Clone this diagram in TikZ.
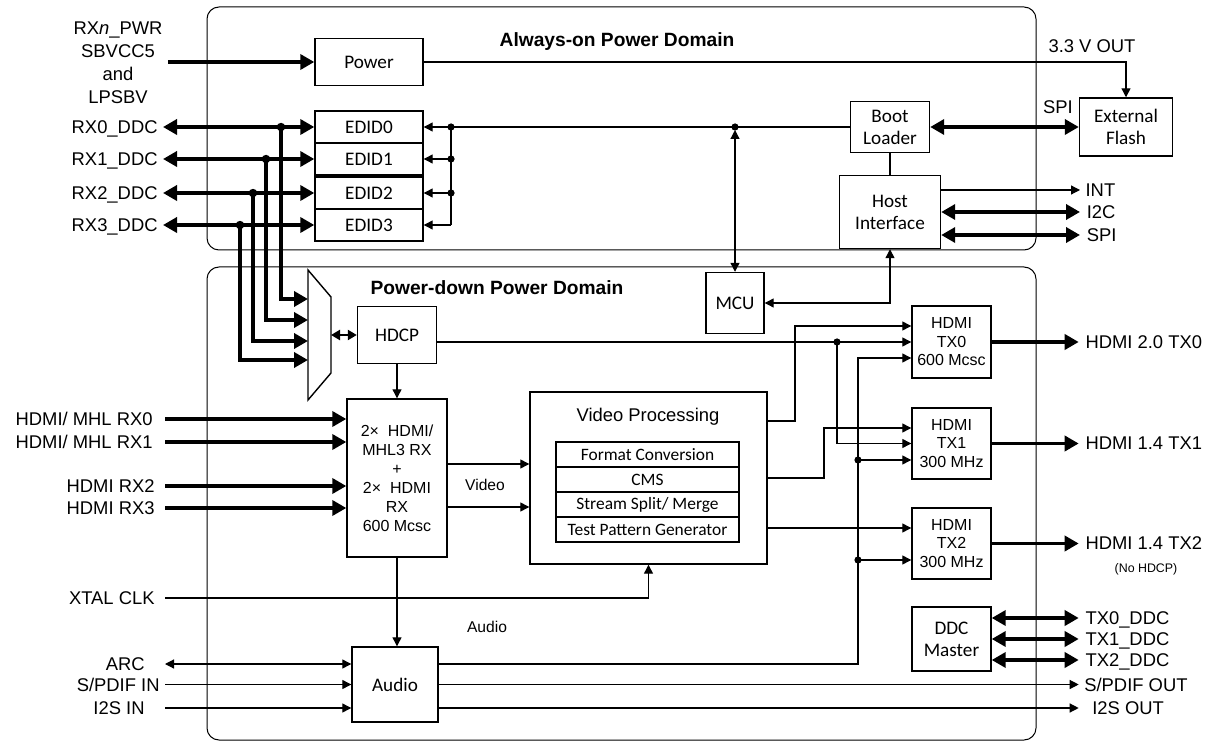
\documentclass[tikz,border=0pt]{standalone}
\usepackage{fontspec}
\setmainfont{Liberation Sans}
\newfontfamily\calfont{Carlito}
\usetikzlibrary{arrows.meta}

\tikzset{
  blk/.style={draw, line width=0.7pt, inner sep=1pt, align=center,
    font=\calfont\fontsize{9.6}{11}\selectfont},
  sz/.style 2 args={minimum width=#1*0.5pt, minimum height=#2*0.5pt},
  wire/.style={line width=0.6pt},
  sig/.style={wire, -{Triangle[length=4.5pt,width=4.5pt]}},
  sigboth/.style={wire, {Triangle[length=4.5pt,width=4.5pt]}-{Triangle[length=4.5pt,width=4.5pt]}},
  bus/.style={line width=1.8pt, -{Triangle[length=7pt,width=7.5pt]}},
  busboth/.style={line width=1.8pt, {Triangle[length=7pt,width=7.5pt]}-{Triangle[length=7pt,width=7.5pt]}},
  lbl/.style={font=\fontsize{9.2}{11.5}\selectfont, inner xsep=2.5pt, inner ysep=1pt, text depth=0pt},
  smalltxt/.style={font=\fontsize{7.8}{9}\selectfont},
  pwrdom/.style={draw, line width=0.5pt, rounded corners=6pt},
  domtitle/.style={font=\bfseries\fontsize{9.6}{11}\selectfont}
}

\begin{document}
\begin{tikzpicture}[x=0.5pt,y=-0.5pt]
\useasboundingbox (0,0) rectangle (1213,742);

% DOMAINS
\draw[pwrdom] (207,7) rectangle (1036,250);
\draw[pwrdom] (207,267) rectangle (1036,740);
\node[domtitle] (aon) at (617,42) {Always-on Power Domain};
\node[domtitle] (pdn) at (497,288) {Power-down Power Domain};

% BLOCKS
\node[blk, sz={108}{47}] (pwr) at (369,62) {Power};
\node[blk, sz={108}{32}] (edid0) at (369,127) {EDID0};
\node[blk, sz={108}{32}] (edid1) at (369,159) {EDID1};
\node[blk, sz={108}{32}] (edid2) at (369,193) {EDID2};
\node[blk, sz={108}{32}] (edid3) at (369,225) {EDID3};
\node[blk, sz={79}{51}] (boot) at (890,127) {Boot\\Loader};
\node[blk, sz={101}{73}] (host) at (890,212) {Host\\Interface};
\node[blk, sz={93}{58}] (flash) at (1126,127) {External\\Flash};
\node[blk, sz={58}{61}] (mcu) at (735,303) {MCU};
\node[blk, sz={79}{57}] (hdcp) at (397,335) {HDCP};
\node[blk, sz={100}{158}, font=\fontsize{8}{9.5}\selectfont] (rx) at (397,478)
  {2×~~HDMI/\\MHL3 RX\\+\\2×~~HDMI\\RX\\600 Mcsc};
\node[blk, sz={237}{172}] (vp) at (648.5,478) {};
\node[font=\fontsize{9.2}{10}\selectfont] (vpt) at (648,417) {Video Processing};
\node[blk, sz={183}{25}, font=\calfont\fontsize{8.7}{10}\selectfont] (fc) at (647.5,454.5) {Format Conversion};
\node[blk, sz={183}{25}, font=\calfont\fontsize{8.7}{10}\selectfont] (cms) at (647.5,479.5) {CMS};
\node[blk, sz={183}{25}, font=\calfont\fontsize{8.7}{10}\selectfont] (ssm) at (647.5,504.5) {Stream Split/ Merge};
\node[blk, sz={183}{25}, font=\calfont\fontsize{8.7}{10}\selectfont] (tpg) at (647.5,529.5) {Test Pattern Generator};
\node[blk, sz={86}{75}] (audio) at (395,684.5) {Audio};
\node[blk, sz={79}{72}, font=\fontsize{8}{9.25}\selectfont] (tx0) at (951.5,342) {HDMI\\TX0\\600 Mcsc};
\node[blk, sz={79}{71}, font=\fontsize{8}{9.25}\selectfont] (tx1) at (951.5,443.5) {HDMI\\TX1\\300 MHz};
\node[blk, sz={79}{71}, font=\fontsize{8}{9.25}\selectfont] (tx2) at (951.5,543.5) {HDMI\\TX2\\300 MHz};
\node[blk, sz={79}{64}] (ddc) at (951.5,639) {DDC\\Master};

% MUX
\draw[line width=0.7pt] (308,270) -- (331,297) -- (331,373) -- (308,400) -- cycle;
\coordinate (muxr) at (331,335);
\coordinate (mx0) at (308,299);
\coordinate (mx1) at (308,320);
\coordinate (mx2) at (308,341);
\coordinate (mx3) at (308,360);

% POWER
\node[lbl, align=center] (lpwr) at (118,63) {RX\textit{n}\_PWR\\SBVCC5\\and\\LPSBV};
\draw[bus] (lpwr.east |- pwr.west) -- (pwr.west);
\draw[sig] (pwr.east) -| (flash.north);
\node[lbl] (l33) at (1092,46) {3.3 V OUT};

% RX DDC
\node[lbl, anchor=east] (lddc0) at (163,127) {RX0\_DDC};
\node[lbl, anchor=east] (lddc1) at (163,159) {RX1\_DDC};
\node[lbl, anchor=east] (lddc2) at (163,193) {RX2\_DDC};
\node[lbl, anchor=east] (lddc3) at (163,225) {RX3\_DDC};
\draw[busboth] (lddc0.east) -- (edid0.west);
\draw[busboth] (lddc1.east) -- (edid1.west);
\draw[busboth] (lddc2.east) -- (edid2.west);
\draw[busboth] (lddc3.east) -- (edid3.west);
\coordinate (j0) at (281,127);
\coordinate (j1) at (266,159);
\coordinate (j2) at (253,193);
\coordinate (j3) at (240,225);
\draw[bus] (j0) |- (mx0);
\draw[bus] (j1) |- (mx1);
\draw[bus] (j2) |- (mx2);
\draw[bus] (j3) |- (mx3);
\fill (j0) circle (2.1pt);
\fill (j1) circle (2.1pt);
\fill (j2) circle (2.1pt);
\fill (j3) circle (2.1pt);

% EDID BUS
\coordinate (e0) at (451,127);
\coordinate (e1) at (451,159);
\coordinate (e2) at (451,193);
\coordinate (e3) at (451,225);
\coordinate (mj) at (735,127);
\draw[wire] (boot.west) -- (e0) -- (e3);
\draw[sig] (e0) -- (edid0.east);
\draw[sig] (e1) -- (edid1.east);
\draw[sig] (e2) -- (edid2.east);
\draw[sig] (e3) -- (edid3.east);
\fill (e0) circle (1.8pt);
\fill (e1) circle (1.8pt);
\fill (e2) circle (1.8pt);
\fill (mj) circle (1.8pt);
\draw[sigboth, shorten <=1.5pt] (mj) -- (mcu.north);

% BOOT / HOST
\draw[busboth] (boot.east) -- (flash.west);
\node[lbl] (lspi) at (1058,107) {SPI};
\draw[wire] (boot.south) -- (host.north);
\draw[sigboth] (mcu.east) -| (host.south);
\coordinate (hint) at (1080,190);
\coordinate (hi2c) at (1080,212);
\coordinate (hspi) at (1080,235);
\draw[sig] (host.east |- hint) -- (hint) node[lbl, anchor=west] (lint) {INT};
\draw[busboth] (host.east |- hi2c) -- (hi2c) node[lbl, anchor=west] (li2c) {I2C};
\draw[busboth] (host.east |- hspi) -- (hspi) node[lbl, anchor=west] (lspi2) {SPI};

% HDCP
\draw[line width=1.3pt, {Triangle[length=4.5pt,width=5pt]}-{Triangle[length=4.5pt,width=5pt]}] (muxr) -- (hdcp.west);
\draw[sig] (hdcp.south) -- (rx.north);
\draw[sig] (hdcp.east |- tx0.west) -- (tx0.west);
\coordinate (hj) at (837,342);
\draw[sig] (hj) |- (tx1.west);
\fill (hj) circle (1.8pt);

% VIDEO
\coordinate (vd0) at (531,464);
\coordinate (vd1) at (531,507);
\draw[sig] (rx.east |- vd0) -- (vd0 -| vp.west);
\draw[sig] (rx.east |- vd1) -- (vd1 -| vp.west);
\node[smalltxt] (lvid) at (485,485) {Video};
\coordinate (v0) at (795,421);
\coordinate (v1) at (824,478);
\coordinate (v2) at (900,528);
\draw[sig] (vp.east |- v0) -- (v0) |- ([yshift=8pt]tx0.west);
\draw[sig] (vp.east |- v1) -- (v1) |- ([yshift=7.75pt]tx1.west);
\draw[sig] (vp.east |- v2) -- (v2 -| tx2.west);

% XTAL
\node[lbl, anchor=east] (lxtal) at (160,598) {XTAL CLK};
\draw[sig] ([xshift=2.5pt]lxtal.east) -| (vp.south);

% AUDIO
\node[smalltxt] (laud) at (487,627) {Audio};
\draw[sig] (rx.south) -- (rx.south |- audio.north);
\coordinate (a0) at (858,664);
\coordinate (a1) at (858,460);
\coordinate (a2) at (858,560);
\draw[sig] (audio.east |- a0) -- (a0) |- ([yshift=-8pt]tx0.west);
\draw[sig] (a1) -- (a1 -| tx1.west);
\draw[sig] (a2) -- (a2 -| tx2.west);
\fill (a1) circle (1.8pt);
\fill (a2) circle (1.8pt);
\node[lbl, anchor=east] (larc) at (150,664) {ARC};
\node[lbl, anchor=east] (lspdin) at (165,684.5) {S/PDIF IN};
\node[lbl, anchor=east] (li2sin) at (150,708) {I2S IN};
\draw[sigboth] ([xshift=7.5pt]larc.east) -- (audio.west |- larc.east);
\draw[sig] (lspdin.east) -- (audio.west);
\draw[sig] ([xshift=7.5pt]li2sin.east) -- (audio.west |- li2sin.east);
\draw[sig] (audio.east) -- ++(640,0) node[lbl, anchor=west] (lspdout) {S/PDIF OUT};
\draw[sig] ([yshift=-11.75pt]audio.east) -- ++(640,0) node[lbl, anchor=west, xshift=4pt] (li2sout) {I2S OUT};

% HDMI RX INPUTS
\node[lbl, anchor=east] (lh0) at (158,419) {HDMI/ MHL RX0};
\node[lbl, anchor=east] (lh1) at (158,442) {HDMI/ MHL RX1};
\node[lbl, anchor=east] (lh2) at (160,486) {HDMI RX2};
\node[lbl, anchor=east] (lh3) at (160,508) {HDMI RX3};
\draw[bus] ([xshift=3.5pt]lh0.east) -- (rx.west |- lh0.east);
\draw[bus] ([xshift=3.5pt]lh1.east) -- (rx.west |- lh1.east);
\draw[bus] ([xshift=2.5pt]lh2.east) -- (rx.west |- lh2.east);
\draw[bus] ([xshift=2.5pt]lh3.east) -- (rx.west |- lh3.east);

% HDMI TX OUTPUTS
\draw[bus] (tx0.east) -- ++(87,0) node[lbl, anchor=west] (ltx0) {HDMI 2.0 TX0};
\draw[bus] (tx1.east) -- ++(87,0) node[lbl, anchor=west] (ltx1) {HDMI 1.4 TX1};
\draw[bus] (tx2.east) -- ++(87,0) node[lbl, anchor=west] (ltx2) {HDMI 1.4 TX2};
\node[font=\fontsize{6.2}{7}\selectfont] (nohdcp) at (1146,569) {(No HDCP)};

% DDC MASTER
\draw[busboth] ([yshift=10.5pt]ddc.east) -- ++(87,0) node[lbl, anchor=west] (ltd0) {TX0\_DDC};
\draw[busboth] (ddc.east) -- ++(87,0) node[lbl, anchor=west] (ltd1) {TX1\_DDC};
\draw[busboth] ([yshift=-10.5pt]ddc.east) -- ++(87,0) node[lbl, anchor=west] (ltd2) {TX2\_DDC};

\end{tikzpicture}
\end{document}
